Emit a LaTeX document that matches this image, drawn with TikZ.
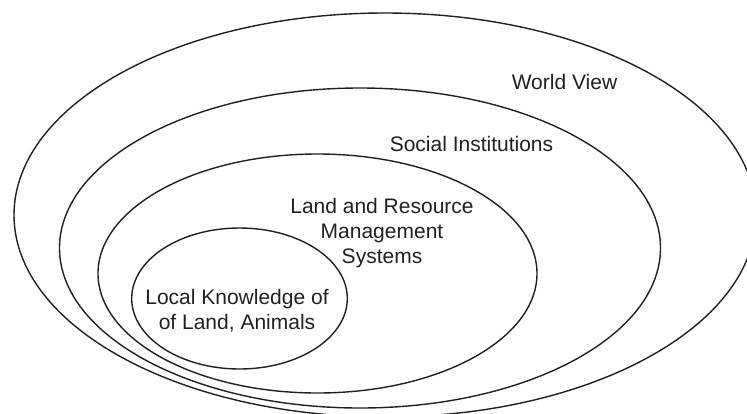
\documentclass[tikz,border=0pt]{standalone}
\usepackage{fontspec}
\setmainfont{Liberation Sans}
\definecolor{ink}{HTML}{231F20}
\begin{document}
\begin{tikzpicture}[x=1pt,y=-1pt,
  ring/.style={draw=ink,line width=1.4pt},
  lbl/.style={text=ink,inner sep=0pt,align=center,font=\fontsize{21}{25}\selectfont}]
\useasboundingbox (0,0) rectangle (747,413);
\begin{scope}
\clip (0,0) rectangle (747,413);
\draw[ring] (385,215) ellipse [x radius=371pt, y radius=202pt];
\draw[ring] (360,248) ellipse [x radius=300.5pt, y radius=160pt];
\draw[ring] (317.5,273.5) ellipse [x radius=219.5pt, y radius=119.5pt];
\draw[ring] (239.5,298.5) ellipse [x radius=107.8pt, y radius=70.5pt];
\end{scope}
\node[lbl] (wv) at (564.5,81.7) {World View};
\node[lbl] (si) at (471.5,144) {Social Institutions};
\node[lbl] (lr) at (382,232.8) {Land and Resource\\Management\\Systems};
\node[lbl] (lk) at (237,310.4) {Local Knowledge of\\of Land, Animals};
\end{tikzpicture}
\end{document}
